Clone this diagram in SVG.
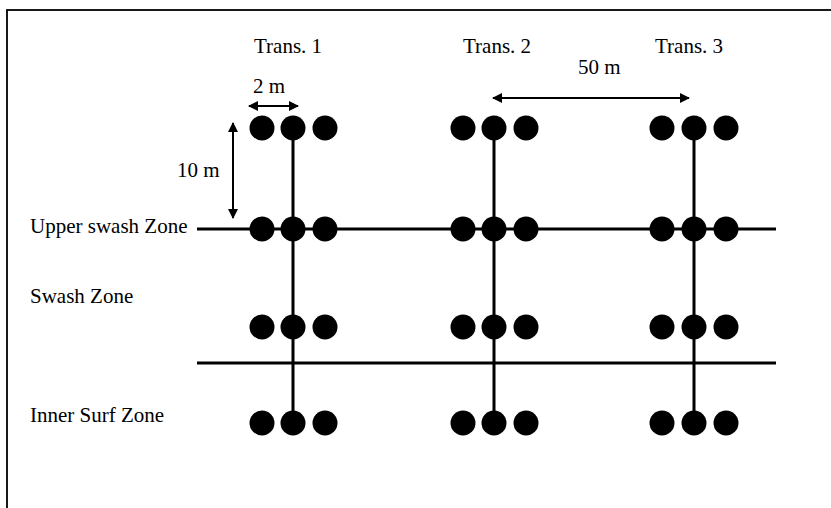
<svg xmlns="http://www.w3.org/2000/svg" width="831" height="508" viewBox="0 0 831 508">
<defs>
<style>
text{font-family:"Liberation Serif","Times New Roman",serif;font-size:21px;fill:#000}
.ln{stroke:#000;stroke-width:3;fill:none}
.ar{stroke:#000;stroke-width:2;fill:none}
.dot{fill:#000}
</style>
<marker id="ah" viewBox="0 0 10 10" refX="9" refY="5" markerWidth="10" markerHeight="10" markerUnits="userSpaceOnUse" orient="auto-start-reverse">
<path d="M0,0 L10,5 L0,10 Z" fill="#000"/>
</marker>
</defs>
<rect width="831" height="508" fill="#fff"/>
<rect x="7" y="10" width="900" height="600" fill="none" stroke="#000" stroke-width="1.8"/>
<g id="connectors">
<line class="ln" x1="197" y1="229" x2="776" y2="229"/>
<line class="ln" x1="197" y1="363" x2="776" y2="363"/>
<line class="ln" x1="293" y1="128" x2="293" y2="423"/>
<line class="ln" x1="494" y1="128" x2="494" y2="423"/>
<line class="ln" x1="694" y1="128" x2="694" y2="423"/>
<line class="ar" x1="249" y1="106" x2="298" y2="106" marker-start="url(#ah)" marker-end="url(#ah)"/>
<line class="ar" x1="233" y1="123" x2="233" y2="218" marker-start="url(#ah)" marker-end="url(#ah)"/>
<line class="ar" x1="493" y1="98" x2="689" y2="98" marker-start="url(#ah)" marker-end="url(#ah)"/>
</g>
<g id="labels">
<text x="254" y="53">Trans. 1</text>
<text x="463" y="53">Trans. 2</text>
<text x="655" y="53">Trans. 3</text>
<text x="578" y="74">50 m</text>
<text x="253" y="93">2 m</text>
<text x="177" y="177">10 m</text>
<text x="30" y="233">Upper swash Zone</text>
<text x="30" y="303">Swash Zone</text>
<text x="30" y="422">Inner Surf  Zone</text>
</g>
<g id="trans1">
<circle class="dot" cx="262" cy="128" r="12.5"/><circle class="dot" cx="293" cy="128" r="12.5"/><circle class="dot" cx="325" cy="128" r="12.5"/>
<circle class="dot" cx="262" cy="229" r="12.5"/><circle class="dot" cx="293" cy="229" r="12.5"/><circle class="dot" cx="325" cy="229" r="12.5"/>
<circle class="dot" cx="262" cy="327" r="12.5"/><circle class="dot" cx="293" cy="327" r="12.5"/><circle class="dot" cx="325" cy="327" r="12.5"/>
<circle class="dot" cx="262" cy="423" r="12.5"/><circle class="dot" cx="293" cy="423" r="12.5"/><circle class="dot" cx="325" cy="423" r="12.5"/>
</g>
<g id="trans2">
<circle class="dot" cx="463" cy="128" r="12.5"/><circle class="dot" cx="494" cy="128" r="12.5"/><circle class="dot" cx="526" cy="128" r="12.5"/>
<circle class="dot" cx="463" cy="229" r="12.5"/><circle class="dot" cx="494" cy="229" r="12.5"/><circle class="dot" cx="526" cy="229" r="12.5"/>
<circle class="dot" cx="463" cy="327" r="12.5"/><circle class="dot" cx="494" cy="327" r="12.5"/><circle class="dot" cx="526" cy="327" r="12.5"/>
<circle class="dot" cx="463" cy="423" r="12.5"/><circle class="dot" cx="494" cy="423" r="12.5"/><circle class="dot" cx="526" cy="423" r="12.5"/>
</g>
<g id="trans3">
<circle class="dot" cx="662" cy="128" r="12.5"/><circle class="dot" cx="694" cy="128" r="12.5"/><circle class="dot" cx="726" cy="128" r="12.5"/>
<circle class="dot" cx="662" cy="229" r="12.5"/><circle class="dot" cx="694" cy="229" r="12.5"/><circle class="dot" cx="726" cy="229" r="12.5"/>
<circle class="dot" cx="662" cy="327" r="12.5"/><circle class="dot" cx="694" cy="327" r="12.5"/><circle class="dot" cx="726" cy="327" r="12.5"/>
<circle class="dot" cx="662" cy="423" r="12.5"/><circle class="dot" cx="694" cy="423" r="12.5"/><circle class="dot" cx="726" cy="423" r="12.5"/>
</g>
</svg>
